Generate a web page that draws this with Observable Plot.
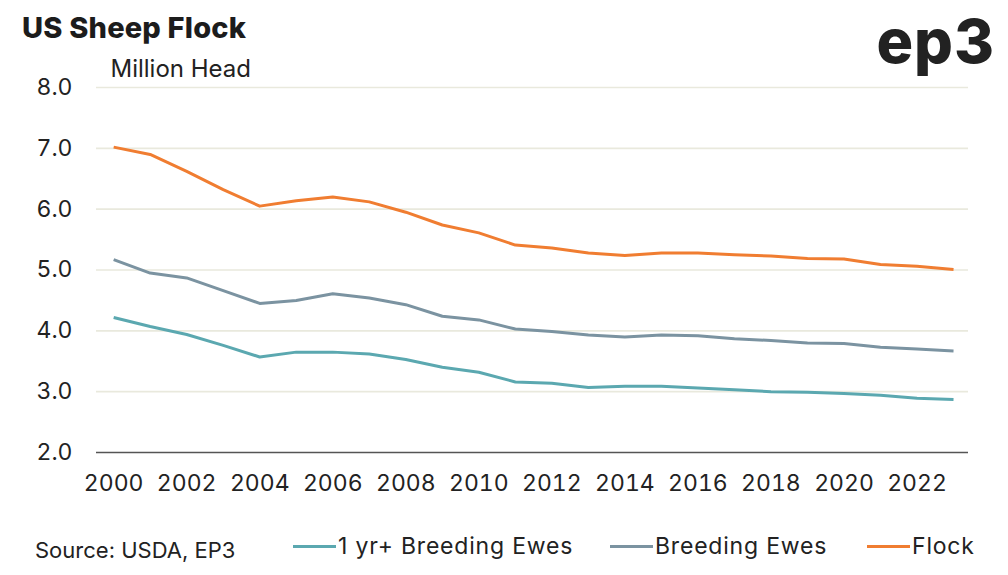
<!DOCTYPE html>
<html>
<head>
<meta charset="utf-8">
<script src="https://cdn.jsdelivr.net/npm/d3@7"></script>
<script src="https://cdn.jsdelivr.net/npm/@observablehq/plot@0.6"></script>
<style>
  html, body { margin: 0; padding: 0; background: #fff; }
  #wrap { position: relative; width: 1008px; height: 575px; overflow: hidden; font-family: Inter, "Noto Sans", sans-serif; color: #222; }
  #title { position: absolute; left: 22px; top: 11px; font-size: 29px; font-weight: 800; letter-spacing: 0.2px; color: #1c1c1c; line-height: 1.2; }
  #logo { position: absolute; left: 850px; top: 0px; width: 150px; height: 90px; }
  #header { height: 52px; }
  #footer { position: absolute; left: 0; top: 530px; width: 1008px; height: 40px; color: #222; }
  #source { position: absolute; left: 35px; top: 7px; font-size: 22px; }
  .item { position: absolute; top: 2px; display: flex; align-items: center; font-size: 23px; letter-spacing: 0.8px; }
  .sw { width: 43px; height: 3px; margin-right: 2px; }
</style>
</head>
<body>
<div id="wrap">
  <div id="header"></div>
  <div id="title">US Sheep Flock</div>
  <svg id="logo" width="150" height="90" viewBox="0 0 150 90">
    <text x="145" y="63" text-anchor="end" font-family="Inter, 'Noto Sans', sans-serif" font-size="61" font-weight="800" fill="#222" letter-spacing="1">ep3</text>
  </svg>
  <div id="chart"></div>
  <div id="footer">
    <div id="source">Source: USDA, EP3</div>
    <div id="legend"></div>
  </div>
</div>
<script>
const years = d3.range(2000, 2024);
const flock = [7.02, 6.90, 6.62, 6.32, 6.05, 6.14, 6.20, 6.12, 5.95, 5.74, 5.61, 5.41, 5.36, 5.28, 5.24, 5.28, 5.28, 5.25, 5.23, 5.19, 5.18, 5.09, 5.06, 5.01];
const breedingEwes = [5.17, 4.95, 4.87, 4.66, 4.45, 4.50, 4.61, 4.54, 4.43, 4.24, 4.18, 4.03, 3.99, 3.93, 3.90, 3.93, 3.92, 3.87, 3.84, 3.80, 3.79, 3.73, 3.70, 3.67];
const yearlingEwes = [4.22, 4.07, 3.94, 3.76, 3.57, 3.65, 3.65, 3.62, 3.53, 3.40, 3.32, 3.16, 3.14, 3.07, 3.09, 3.09, 3.06, 3.03, 3.00, 2.99, 2.97, 2.94, 2.89, 2.87];
const seriesNames = ["1 yr+ Breeding Ewes", "Breeding Ewes", "Flock"];
const seriesColors = ["#5ba8b0", "#7b93a1", "#f07d31"];
const xTicks = d3.range(2000, 2023, 2);
const yTicks = [2, 3, 4, 5, 6, 7, 8];

const seriesValues = [yearlingEwes, breedingEwes, flock];
const rows = [];
seriesNames.forEach((name, i) => {
  years.forEach((yr, j) => rows.push({series: name, year: yr, value: seriesValues[i][j]}));
});

const chart = Plot.plot({
  width: 1008,
  height: 450,
  marginLeft: 96,
  marginRight: 40,
  marginTop: 35,
  marginBottom: 50,
  style: {fontFamily: "Inter, 'Noto Sans', sans-serif", fontSize: "23px", color: "#222", background: "#fff"},
  x: {domain: [1999.53, 2023.41], label: null},
  y: {domain: [2, 8], label: null},
  color: {domain: seriesNames, range: seriesColors},
  marks: [
    Plot.ruleY(yTicks.filter(d => d > 2), {stroke: "#e9e9dd", strokeWidth: 1.6}),
    Plot.ruleY([2], {stroke: "#555", strokeWidth: 1.6}),
    Plot.axisX({ticks: xTicks, tickFormat: d => String(d), tickSize: 0, tickPadding: 22, fontSize: 23, label: null}),
    Plot.axisY({ticks: yTicks, tickFormat: d3.format(".1f"), tickSize: 0, tickPadding: 24, fontSize: 23, label: null}),
    Plot.line(rows, {x: "year", y: "value", z: "series", stroke: "series", strokeWidth: 3, strokeLinejoin: "round", strokeLinecap: "butt"}),
    Plot.text(["Million Head"], {frameAnchor: "top-left", text: d => d, textAnchor: "start", lineAnchor: "middle", dx: 14, dy: -18, fontSize: 24, letterSpacing: 0.8, fill: "#222"})
  ]
});
document.getElementById("chart").appendChild(chart);

const legend = document.getElementById("legend");
const lefts = [293, 610, 867];
seriesNames.forEach((name, i) => {
  const item = document.createElement("div");
  item.className = "item";
  item.style.left = lefts[i] + "px";
  const sw = document.createElement("div");
  sw.className = "sw";
  sw.style.background = seriesColors[i];
  const label = document.createElement("span");
  label.textContent = name;
  item.appendChild(sw);
  item.appendChild(label);
  legend.appendChild(item);
});
</script>
</body>
</html>
